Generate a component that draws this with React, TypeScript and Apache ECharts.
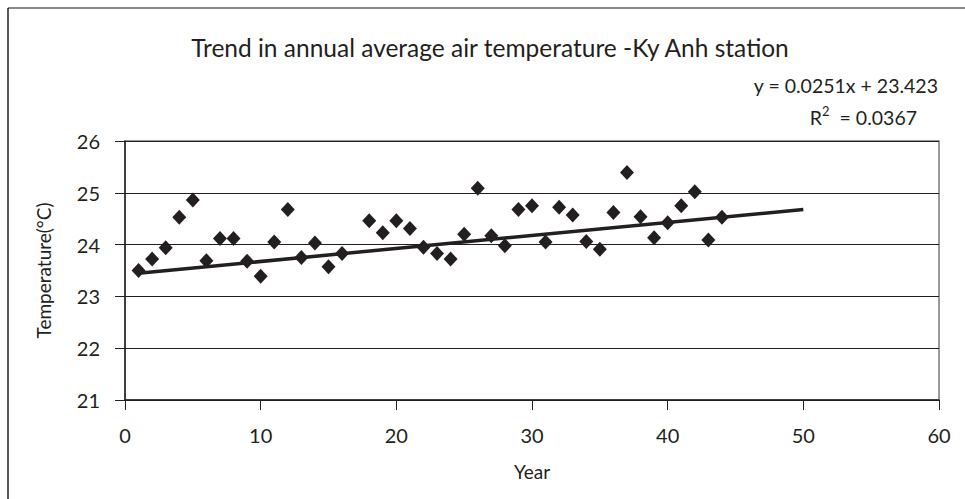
import React, { useEffect, useRef } from "react";
import * as echarts from "echarts";

const years = [1,2,3,4,5,6,7,8,9,10,11,12,13,14,15,16,18,19,20,21,22,23,24,25,26,27,28,29,30,31,32,33,34,35,36,37,38,39,40,41,42,43,44];
const temps = [23.50,23.72,23.94,24.53,24.86,23.69,24.12,24.12,23.68,23.39,24.05,24.68,23.75,24.03,23.57,23.83,24.46,24.23,24.46,24.31,23.95,23.83,23.72,24.20,25.09,24.17,23.98,24.68,24.75,24.05,24.72,24.57,24.06,23.91,24.62,25.39,24.54,24.13,24.42,24.75,25.02,24.09,24.53];
const trendSlope = 0.0251;
const trendIntercept = 23.423;
const trendRange = [1, 50];
const titleText = "Trend in annual average air temperature -Ky Anh station";
const eqText = "y = 0.0251x + 23.423";
const r2Value = "0.0367";

const FONT = "Lato";
const INK = "#231f20";

export default function App() {
  const ref = useRef<HTMLDivElement>(null);
  useEffect(() => {
    if (!ref.current) return;
    const chart = echarts.init(ref.current, null, { renderer: "svg" });
    const trend = trendRange.map((x) => [x, trendIntercept + trendSlope * x]);
    chart.setOption({
      animation: false,
      backgroundColor: "#fff",
      textStyle: { fontFamily: FONT },
      grid: { left: 125, right: 26, top: 141, bottom: 99, show: true, borderColor: "#7a7a7a", borderWidth: 1.5 },
      xAxis: {
        type: "value", min: 0, max: 60, interval: 10,
        name: "Year", nameLocation: "middle", nameGap: 62,
        nameTextStyle: { fontSize: 19, color: INK, fontFamily: FONT },
        axisLine: { lineStyle: { color: INK, width: 1.5 } },
        axisTick: { show: true, inside: false, length: 10, lineStyle: { color: INK } },
        axisLabel: { margin: 25, fontSize: 20, color: INK, fontFamily: FONT },
        splitLine: { show: false },
      },
      yAxis: {
        type: "value", min: 21, max: 26, interval: 1,
        name: "Temperature(°C)", nameLocation: "middle", nameGap: 72, nameRotate: 90,
        nameTextStyle: { fontSize: 19, color: INK, fontFamily: FONT },
        axisLine: { show: true, lineStyle: { color: INK, width: 1.5 } },
        axisTick: { show: true, inside: false, length: 10, lineStyle: { color: INK } },
        axisLabel: { margin: 25, fontSize: 20, color: INK, fontFamily: FONT },
        splitLine: { show: true, lineStyle: { color: INK, width: 1 } },
      },
      series: [
        {
          type: "line",
          data: trend,
          symbol: "none",
          lineStyle: { color: INK, width: 3.5 },
          z: 2,
        },
        {
          type: "scatter",
          data: years.map((y, i) => [y, temps[i]]),
          symbol: "diamond",
          symbolSize: [14, 15],
          itemStyle: { color: INK, opacity: 1 },
          z: 3,
        },
      ],
      graphic: [
        { type: "line", shape: { x1: 8, y1: 8, x2: 970, y2: 8 }, style: { stroke: "#8a8a8a", lineWidth: 2 } },
        { type: "line", shape: { x1: 8, y1: 8, x2: 8, y2: 505 }, style: { stroke: INK, lineWidth: 1.5 } },
        {
          type: "text", x: 490, y: 47,
          style: { text: titleText, fontSize: 24.5, fill: INK, fontFamily: FONT, align: "center", verticalAlign: "middle" },
        },
        {
          type: "text", x: 938, y: 85,
          style: { text: eqText, fontSize: 19.5, fill: INK, fontFamily: FONT, align: "right", verticalAlign: "middle" },
        },
        {
          type: "text", x: 917, y: 117,
          style: {
            text: "R{sup|2}  = " + r2Value,
            fontSize: 19.5, fill: INK, fontFamily: FONT, align: "right", verticalAlign: "middle",
            rich: { sup: { fontSize: 13, verticalAlign: "top", padding: [0, 0, 12, 0], fill: INK, fontFamily: FONT } },
          },
        },
      ],
    });
    return () => chart.dispose();
  }, []);
  return <div ref={ref} style={{ position: "fixed", left: 0, top: 0, width: 965, height: 499 }} />;
}
